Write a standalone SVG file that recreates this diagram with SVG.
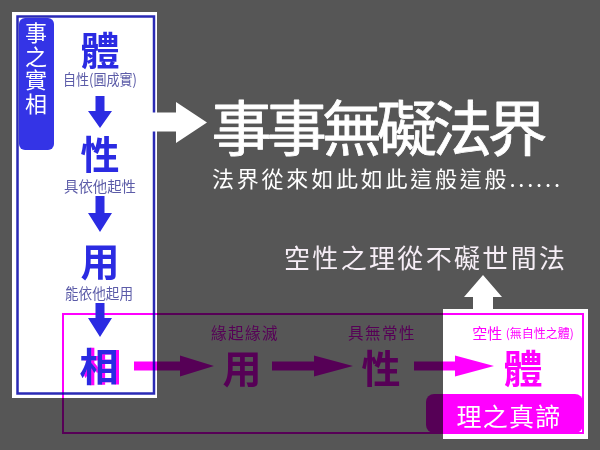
<svg xmlns="http://www.w3.org/2000/svg" width="600" height="450" viewBox="0 0 600 450">
<style>
text{font-family:"Noto Sans CJK TC","Noto Sans CJK SC",sans-serif;dominant-baseline:central;text-anchor:middle}
.big{font-size:39px;font-weight:700}
.blue{fill:#2b2be2}
.sub{fill:#5c5ca8;font-size:15px}
.mul{mix-blend-mode:multiply}
.mg{fill:#ff00ff}
.wt{fill:#ffffff}
</style>
<defs>
  <filter id="mshadow" x="-10%" y="-10%" width="130%" height="120%">
    <feOffset in="SourceAlpha" dx="3" dy="0" result="o"/>
    <feFlood flood-color="#ff00ff"/>
    <feComposite in2="o" operator="in" result="s"/>
    <feMerge><feMergeNode in="s"/><feMergeNode in="SourceGraphic"/></feMerge>
  </filter>
</defs>
<rect x="0" y="0" width="600" height="450" fill="#565656"/>

<g id="panel-left">
  <rect x="12" y="12" width="145" height="386" fill="#ffffff"/>
  <rect x="17.5" y="16.5" width="136.5" height="377" fill="none" stroke="#2a2ab5" stroke-width="2.5"/>
</g>
<g id="label-shixiang">
  <rect x="19" y="18" width="35" height="132" rx="6" fill="#3434e6"/>
  <text x="36" y="22" font-size="22" letter-spacing="1.5" class="wt" style="writing-mode:vertical-rl;text-anchor:start">事之實相</text>
</g>
<g id="node-ti">
  <text x="100" y="48" class="big blue">體</text>
  <text x="100" y="78.5" class="sub" textLength="74" lengthAdjust="spacingAndGlyphs">自性(圓成實)</text>
</g>
<g id="node-xing">
  <text x="100" y="151.5" class="big blue">性</text>
  <text x="100" y="185" class="sub" font-size="16" textLength="72" lengthAdjust="spacingAndGlyphs">具依他起性</text>
</g>
<g id="node-yong">
  <text x="100" y="258.5" class="big blue">用</text>
  <text x="99" y="292.5" class="sub" font-size="16" textLength="68" lengthAdjust="spacingAndGlyphs">能依他起用</text>
</g>
<g id="node-xiang">
  <text x="99" y="364" class="big blue" filter="url(#mshadow)">相</text>
</g>

<g id="box-right">
  <rect x="443" y="309" width="145" height="130" fill="#ffffff"/>
</g>

<g id="title">
  <text x="379.5" y="124" font-size="60" font-weight="400" class="wt" stroke="#ffffff" stroke-width="0.8" stroke-linejoin="round" textLength="336">事事無礙法界</text>
  <text x="212" y="177" font-size="22" class="wt" style="text-anchor:start" textLength="348">法界從來如此如此這般這般......</text>
</g>
<g id="principle">
  <text x="284" y="256" font-size="26" fill="#f6eef6" style="text-anchor:start" textLength="281">空性之理從不礙世間法</text>
</g>

<g id="frame-bottom">
  <rect class="mul" x="63" y="314" width="520" height="119" fill="none" stroke="#ff00ff" stroke-width="2"/>
</g>

<g id="node-yong-b">
  <text class="mg mul" x="245" y="332" font-size="15.5" letter-spacing="1.5">緣起緣滅</text>
  <text class="big mg mul" x="242" y="366">用</text>
</g>
<g id="node-xing-b">
  <text class="mg mul" x="382" y="332" font-size="15.5" letter-spacing="1.5">具無常性</text>
  <text class="big mg mul" x="381" y="366">性</text>
</g>
<g id="node-ti-b">
  <text class="mg mul" x="523" y="332"><tspan font-size="15">空性 </tspan><tspan font-size="12">(無自性之體)</tspan></text>
  <text class="big mg mul" x="523" y="366">體</text>
</g>
<g id="node-zhendi">
  <rect class="mul" x="426" y="394" width="157" height="39" rx="8" fill="#ff00ff"/>
  <text x="509" y="415" font-size="25" letter-spacing="1.3" class="wt">理之真諦</text>
</g>

<g id="connectors">
  <polygon fill="#2b2be2" points="95.5,96 104.5,96 104.5,111 112,111 100,128 88,111 95.5,111"/>
  <polygon fill="#2b2be2" points="95.5,196 104.5,196 104.5,213 112,213 100,232 88,213 95.5,213"/>
  <polygon fill="#2b2be2" points="95.5,303 104.5,303 104.5,318 112,318 100,337 88,318 95.5,318"/>
  <polygon fill="#ffffff" points="150,112.5 176,112.5 176,102 207,122.5 176,143 176,131.5 150,131.5"/>
  <polygon fill="#ffffff" points="473,310 473,297 464,297 483,275 502,297 493,297 493,310"/>
  <polygon class="mul mg" points="134,361.5 180,361.5 180,355.5 214,366 180,376.5 180,370.5 134,370.5"/>
  <polygon class="mul mg" points="272,361.5 314,361.5 314,355.5 353,366 314,376.5 314,370.5 272,370.5"/>
  <polygon class="mul mg" points="414,361.5 455,361.5 455,355.5 494,366 455,376.5 455,370.5 414,370.5"/>
</g>
</svg>
